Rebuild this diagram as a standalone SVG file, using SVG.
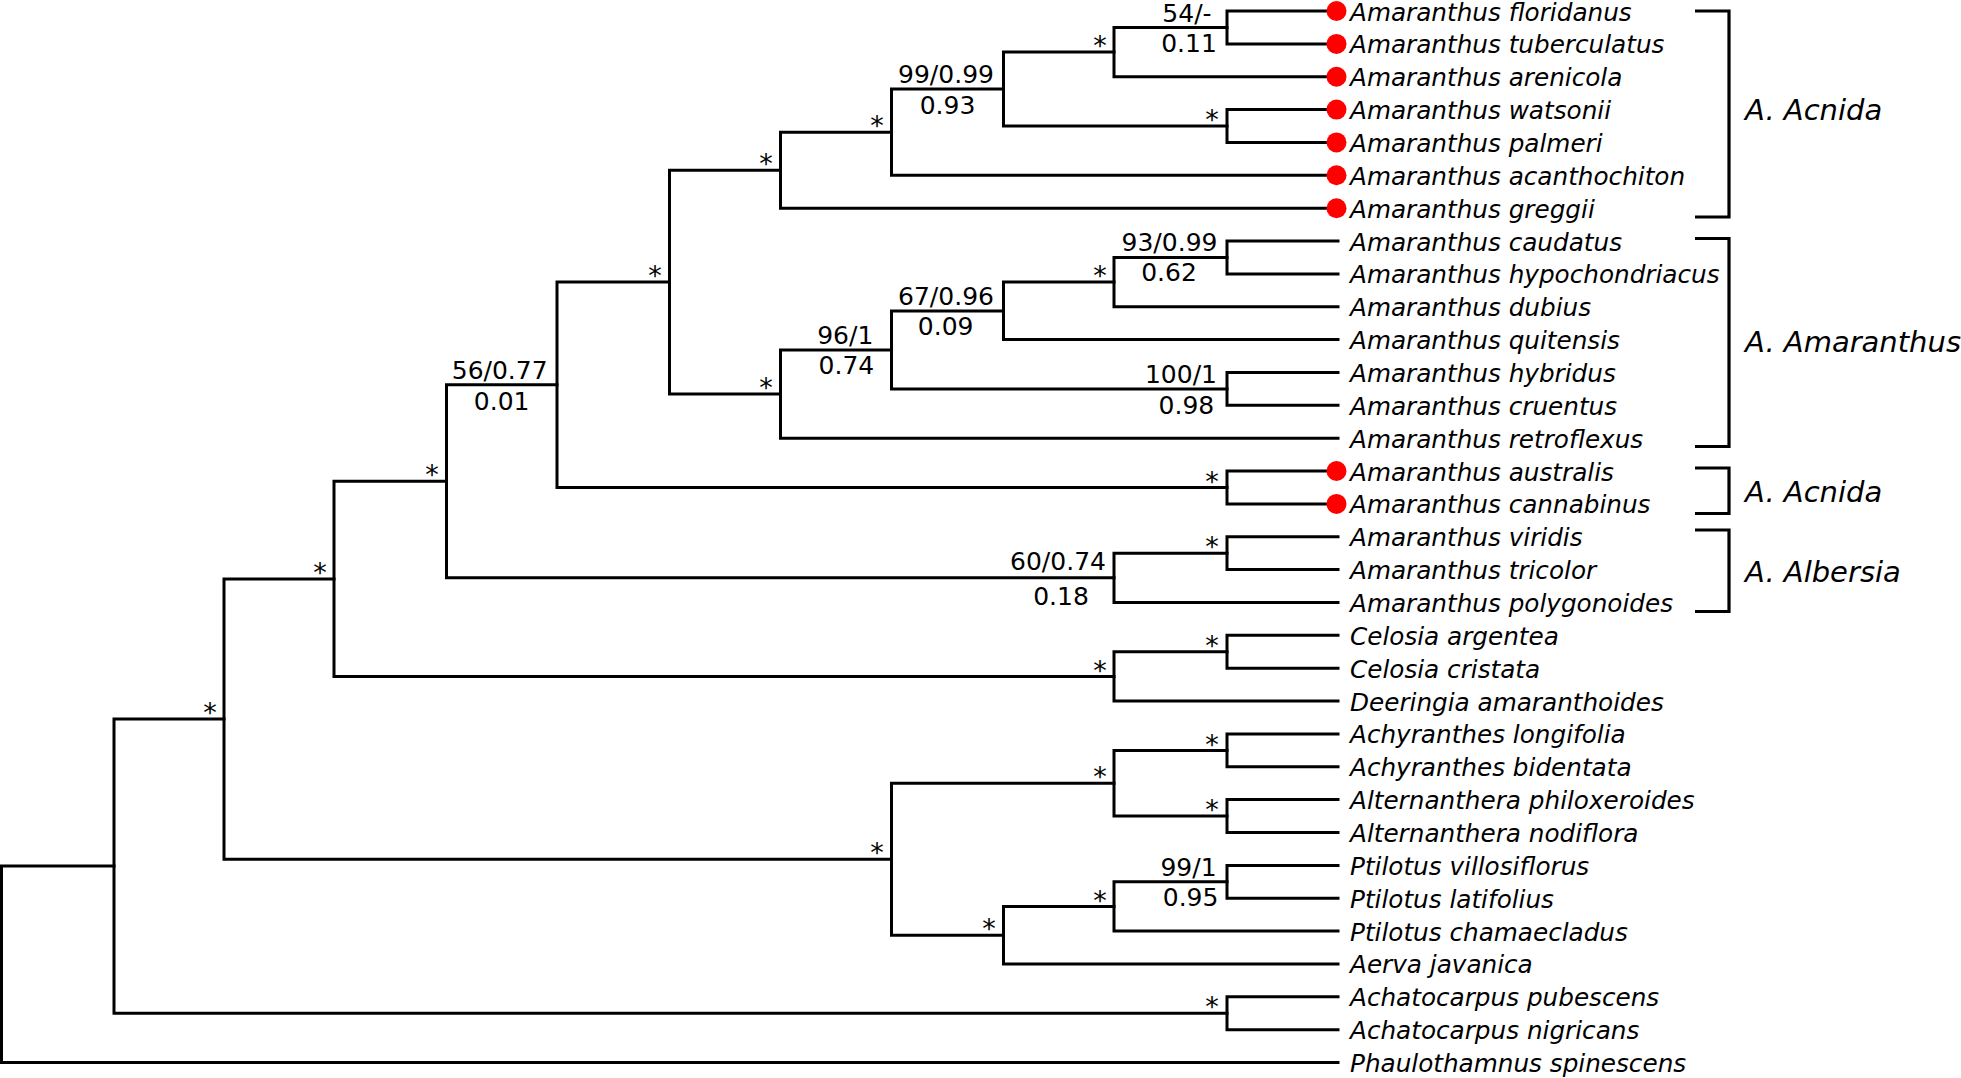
<svg xmlns="http://www.w3.org/2000/svg" width="1961" height="1078" viewBox="0 0 1961 1078">
<style>
.ln{fill:none;stroke:#000;stroke-width:3;stroke-linecap:square}
.br{fill:none;stroke:#000;stroke-width:3.2}
.leaf{font-family:"DejaVu Sans","Verdana",sans-serif;font-size:24.7px;font-style:italic;fill:#000}
.clade{font-family:"DejaVu Sans","Verdana",sans-serif;font-size:29px;font-style:italic;fill:#000}
.sup{font-family:"DejaVu Sans","Verdana",sans-serif;font-size:25px;fill:#000;text-anchor:middle}
.star{font-family:"DejaVu Sans","Verdana",sans-serif;font-size:27px;fill:#000;text-anchor:middle}
.dot{fill:#ff0000}
</style>
<rect width="1961" height="1078" fill="#fff"/>
<g id="connectors" class="ln">
<path d="M1.5,866.1 V1062.5 M1.5,866.1 H114 M1.5,1062.5 H1338"/>
<path d="M114,719 V1013.2 M114,719 H224 M114,1013.2 H1227"/>
<path d="M1227,996.8 V1029.7 M1227,996.8 H1338 M1227,1029.7 H1338"/>
<path d="M224,578.9 V859.2 M224,578.9 H334 M224,859.2 H891.5"/>
<path d="M334,481.3 V676.4 M334,481.3 H446.5 M334,676.4 H1114"/>
<path d="M1114,651.8 V701.1 M1114,651.8 H1227 M1114,701.1 H1338"/>
<path d="M1227,635.3 V668.2 M1227,635.3 H1338 M1227,668.2 H1338"/>
<path d="M446.5,384.8 V577.8 M446.5,384.8 H557 M446.5,577.8 H1114"/>
<path d="M1114,553.2 V602.5 M1114,553.2 H1227 M1114,602.5 H1338"/>
<path d="M1227,536.8 V569.6 M1227,536.8 H1338 M1227,569.6 H1338"/>
<path d="M557,282.1 V487.5 M557,282.1 H669.5 M557,487.5 H1227"/>
<path d="M1227,471 V503.9 M1227,471 H1338 M1227,503.9 H1338"/>
<path d="M669.5,170.2 V394 M669.5,170.2 H780.5 M669.5,394 H780.5"/>
<path d="M780.5,132.2 V208.2 M780.5,132.2 H891.5 M780.5,208.2 H1338"/>
<path d="M891.5,89 V175.3 M891.5,89 H1003.5 M891.5,175.3 H1338"/>
<path d="M1003.5,52.1 V126 M1003.5,52.1 H1114 M1003.5,126 H1227"/>
<path d="M1114,27.4 V76.7 M1114,27.4 H1227 M1114,76.7 H1338"/>
<path d="M1227,11 V43.9 M1227,11 H1338 M1227,43.9 H1338"/>
<path d="M1227,109.6 V142.4 M1227,109.6 H1338 M1227,142.4 H1338"/>
<path d="M780.5,349.9 V438.2 M780.5,349.9 H891.5 M780.5,438.2 H1338"/>
<path d="M891.5,310.9 V388.9 M891.5,310.9 H1003.5 M891.5,388.9 H1227"/>
<path d="M1003.5,282.1 V339.6 M1003.5,282.1 H1114 M1003.5,339.6 H1338"/>
<path d="M1114,257.5 V306.7 M1114,257.5 H1227 M1114,306.7 H1338"/>
<path d="M1227,241 V273.9 M1227,241 H1338 M1227,273.9 H1338"/>
<path d="M1227,372.5 V405.3 M1227,372.5 H1338 M1227,405.3 H1338"/>
<path d="M891.5,783.2 V935.2 M891.5,783.2 H1114 M891.5,935.2 H1003.5"/>
<path d="M1114,750.4 V816.1 M1114,750.4 H1227 M1114,816.1 H1227"/>
<path d="M1227,733.9 V766.8 M1227,733.9 H1338 M1227,766.8 H1338"/>
<path d="M1227,799.6 V832.5 M1227,799.6 H1338 M1227,832.5 H1338"/>
<path d="M1003.5,906.4 V963.9 M1003.5,906.4 H1114 M1003.5,963.9 H1338"/>
<path d="M1114,881.8 V931.1 M1114,881.8 H1227 M1114,931.1 H1338"/>
<path d="M1227,865.4 V898.2 M1227,865.4 H1338 M1227,898.2 H1338"/>
</g>
<g id="support">
<g id="s-flor"><text class="sup" x="1187" y="21.5">54/-</text><text class="sup" x="1189" y="52">0.11</text></g>
<g id="s-acn"><text class="sup" x="946" y="83">99/0.99</text><text class="sup" x="947.5" y="113.5">0.93</text></g>
<g id="s-caud"><text class="sup" x="1169.5" y="250.5">93/0.99</text><text class="sup" x="1169" y="281">0.62</text></g>
<g id="s-dub"><text class="sup" x="946" y="304.5">67/0.96</text><text class="sup" x="945.7" y="335">0.09</text></g>
<g id="s-ama"><text class="sup" x="845.3" y="344">96/1</text><text class="sup" x="846.4" y="373.5">0.74</text></g>
<g id="s-hyb"><text class="sup" x="1181" y="383.3">100/1</text><text class="sup" x="1186.4" y="413.5">0.98</text></g>
<g id="s-amacore"><text class="sup" x="499.7" y="379.3">56/0.77</text><text class="sup" x="501.7" y="410">0.01</text></g>
<g id="s-alb"><text class="sup" x="1058" y="570">60/0.74</text><text class="sup" x="1061" y="605">0.18</text></g>
<g id="s-ptil"><text class="sup" x="1188.5" y="875.5">99/1</text><text class="sup" x="1190.6" y="906">0.95</text></g>
</g>
<g id="stars">
<text class="star" x="1100" y="55">*</text>
<text class="star" x="1212" y="129">*</text>
<text class="star" x="877" y="135">*</text>
<text class="star" x="766" y="173">*</text>
<text class="star" x="655" y="285">*</text>
<text class="star" x="1100" y="285">*</text>
<text class="star" x="766" y="397">*</text>
<text class="star" x="1212" y="490.5">*</text>
<text class="star" x="432" y="484">*</text>
<text class="star" x="1212" y="556">*</text>
<text class="star" x="320" y="582">*</text>
<text class="star" x="1212" y="655">*</text>
<text class="star" x="1100" y="679.5">*</text>
<text class="star" x="1212" y="753.5">*</text>
<text class="star" x="1212" y="819">*</text>
<text class="star" x="1100" y="786">*</text>
<text class="star" x="1100" y="909.5">*</text>
<text class="star" x="989" y="938">*</text>
<text class="star" x="877" y="862">*</text>
<text class="star" x="210" y="722">*</text>
<text class="star" x="1212" y="1016">*</text>
</g>
<g id="leaves">
<g id="floridanus"><circle class="dot" cx="1336.5" cy="11" r="10"/><text class="leaf" x="1350" y="20.5">Amaranthus floridanus</text></g>
<g id="tuberculatus"><circle class="dot" cx="1336.5" cy="43.9" r="10"/><text class="leaf" x="1350" y="53.4">Amaranthus tuberculatus</text></g>
<g id="arenicola"><circle class="dot" cx="1336.5" cy="76.7" r="10"/><text class="leaf" x="1350" y="86.2">Amaranthus arenicola</text></g>
<g id="watsonii"><circle class="dot" cx="1336.5" cy="109.6" r="10"/><text class="leaf" x="1350" y="119.1">Amaranthus watsonii</text></g>
<g id="palmeri"><circle class="dot" cx="1336.5" cy="142.4" r="10"/><text class="leaf" x="1350" y="151.9">Amaranthus palmeri</text></g>
<g id="acanthochiton"><circle class="dot" cx="1336.5" cy="175.3" r="10"/><text class="leaf" x="1350" y="184.8">Amaranthus acanthochiton</text></g>
<g id="greggii"><circle class="dot" cx="1336.5" cy="208.2" r="10"/><text class="leaf" x="1350" y="217.7">Amaranthus greggii</text></g>
<g id="caudatus"><text class="leaf" x="1350" y="250.5">Amaranthus caudatus</text></g>
<g id="hypochondriacus"><text class="leaf" x="1350" y="283.4">Amaranthus hypochondriacus</text></g>
<g id="dubius"><text class="leaf" x="1350" y="316.2">Amaranthus dubius</text></g>
<g id="quitensis"><text class="leaf" x="1350" y="349.1">Amaranthus quitensis</text></g>
<g id="hybridus"><text class="leaf" x="1350" y="382">Amaranthus hybridus</text></g>
<g id="cruentus"><text class="leaf" x="1350" y="414.8">Amaranthus cruentus</text></g>
<g id="retroflexus"><text class="leaf" x="1350" y="447.7">Amaranthus retroflexus</text></g>
<g id="australis"><circle class="dot" cx="1336.5" cy="471" r="10"/><text class="leaf" x="1350" y="480.5">Amaranthus australis</text></g>
<g id="cannabinus"><circle class="dot" cx="1336.5" cy="503.9" r="10"/><text class="leaf" x="1350" y="513.4">Amaranthus cannabinus</text></g>
<g id="viridis"><text class="leaf" x="1350" y="546.3">Amaranthus viridis</text></g>
<g id="tricolor"><text class="leaf" x="1350" y="579.1">Amaranthus tricolor</text></g>
<g id="polygonoides"><text class="leaf" x="1350" y="612">Amaranthus polygonoides</text></g>
<g id="argentea"><text class="leaf" x="1350" y="644.8">Celosia argentea</text></g>
<g id="cristata"><text class="leaf" x="1350" y="677.7">Celosia cristata</text></g>
<g id="deeringia"><text class="leaf" x="1350" y="710.6">Deeringia amaranthoides</text></g>
<g id="longifolia"><text class="leaf" x="1350" y="743.4">Achyranthes longifolia</text></g>
<g id="bidentata"><text class="leaf" x="1350" y="776.3">Achyranthes bidentata</text></g>
<g id="philoxeroides"><text class="leaf" x="1350" y="809.1">Alternanthera philoxeroides</text></g>
<g id="nodiflora"><text class="leaf" x="1350" y="842">Alternanthera nodiflora</text></g>
<g id="villosiflorus"><text class="leaf" x="1350" y="874.9">Ptilotus villosiflorus</text></g>
<g id="latifolius"><text class="leaf" x="1350" y="907.7">Ptilotus latifolius</text></g>
<g id="chamaecladus"><text class="leaf" x="1350" y="940.6">Ptilotus chamaecladus</text></g>
<g id="aerva"><text class="leaf" x="1350" y="973.4">Aerva javanica</text></g>
<g id="pubescens"><text class="leaf" x="1350" y="1006.3">Achatocarpus pubescens</text></g>
<g id="nigricans"><text class="leaf" x="1350" y="1039.2">Achatocarpus nigricans</text></g>
<g id="phaulothamnus"><text class="leaf" x="1350" y="1072">Phaulothamnus spinescens</text></g>
</g>
<g id="clades">
<g id="clade-acnida1"><path class="br" d="M1695,11 H1729 V217 H1695"/><text class="clade" x="1745" y="120">A. Acnida</text></g>
<g id="clade-amaranthus"><path class="br" d="M1695,238.5 H1729 V446.5 H1695"/><text class="clade" x="1745" y="352">A. Amaranthus</text></g>
<g id="clade-acnida2"><path class="br" d="M1695,468 H1729 V513.5 H1695"/><text class="clade" x="1745" y="502">A. Acnida</text></g>
<g id="clade-albersia"><path class="br" d="M1695,530 H1729 V611.5 H1695"/><text class="clade" x="1745" y="582">A. Albersia</text></g>
</g>
</svg>
